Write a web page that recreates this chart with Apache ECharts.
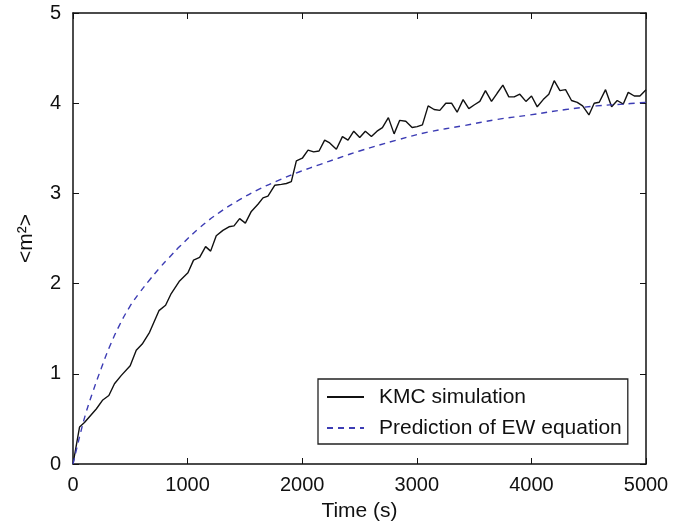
<!DOCTYPE html>
<html>
<head>
<meta charset="utf-8">
<script src="https://cdn.jsdelivr.net/npm/echarts@6/dist/echarts.min.js"></script>
<style>html,body{margin:0;padding:0;background:#fff}#c{width:684px;height:528px}</style>
</head>
<body>
<div id="c"></div>
<script>
// KMC simulation: time (s)
const kmcTime = [0,57,100,203,260,313,362,420,499,552,604,668,750,808,857,930,1003,1052,1105,1157,1201,1250,1308,1361,1405,1454,1504,1556,1614,1658,1701,1760,1818,1862,1905,1949,2001,2051,2100,2147,2196,2240,2298,2351,2400,2450,2502,2551,2604,2653,2700,2752,2802,2851,2904,2959,3003,3049,3099,3151,3201,3253,3303,3352,3404,3454,3500,3550,3599,3652,3701,3751,3803,3850,3899,3952,4001,4051,4103,4152,4199,4249,4298,4350,4400,4447,4502,4548,4592,4647,4700,4749,4802,4845,4898,4947,5000];
// KMC simulation: <m^2>
const kmcM2 = [0,0.41,0.46,0.61,0.71,0.76,0.89,0.98,1.09,1.26,1.33,1.46,1.70,1.76,1.89,2.03,2.12,2.26,2.29,2.41,2.36,2.53,2.59,2.63,2.64,2.72,2.67,2.80,2.88,2.95,2.97,3.09,3.10,3.11,3.13,3.36,3.39,3.48,3.46,3.47,3.59,3.56,3.49,3.63,3.59,3.69,3.62,3.69,3.63,3.69,3.73,3.84,3.66,3.81,3.80,3.73,3.74,3.76,3.97,3.93,3.92,4.00,4.00,3.90,4.04,3.94,3.98,4.02,4.14,4.02,4.11,4.20,4.07,4.07,4.10,4.02,4.08,3.96,4.04,4.10,4.25,4.14,4.15,4.03,4.01,3.97,3.87,4.00,4.01,4.15,3.96,4.03,3.99,4.12,4.08,4.08,4.15];
// EW equation prediction
const ewTime = [0,57,109,173,246,319,406,493,581,668,750,840,930,1105,1279,1454,1629,1803,1978,2153,2313,2500,2822,3100,3404,3700,3987,4300,4569,4800,5000];
const ewM2 = [0,0.30,0.55,0.80,1.06,1.30,1.54,1.74,1.90,2.04,2.165,2.29,2.41,2.62,2.79,2.93,3.05,3.15,3.24,3.32,3.39,3.47,3.59,3.68,3.75,3.82,3.87,3.93,3.97,3.99,4.01];
const xTicks = [0,1000,2000,3000,4000,5000];
const yTicks = [0,1,2,3,4,5];
const seriesNames = ['KMC simulation','Prediction of EW equation'];

const zip = (a,b) => a.map((v,i)=>[v,b[i]]);
const FONT = '"Liberation Sans", Arial, sans-serif';
const axisLine = {show:true, onZero:false, lineStyle:{color:'#111', width:1.5}};
const tick = {show:true, inside:true, length:6, lineStyle:{color:'#111', width:1}};
const plain = v => String(v);

const chart = echarts.init(document.getElementById('c'), null, {renderer:'canvas'});
chart.setOption({
  animation:false,
  backgroundColor:'#fff',
  grid:{left:73, right:38, top:13, bottom:64, containLabel:false},
  legend:{
    data:seriesNames,
    orient:'vertical',
    left:318, top:379,
    padding:[7,6,5,8],
    itemWidth:37, itemHeight:14, itemGap:9,
    itemStyle:{opacity:0},
    borderColor:'#222', borderWidth:1.3,
    backgroundColor:'#fff',
    textStyle:{fontFamily:FONT, fontSize:21, color:'#111', lineHeight:22, padding:[0,0,0,10]}
  },
  xAxis:[{
    type:'value', min:xTicks[0], max:xTicks[xTicks.length-1], interval:1000,
    name:'Time (s)', nameLocation:'middle', nameGap:37,
    nameTextStyle:{fontFamily:FONT, fontSize:21, color:'#111'},
    axisLine, axisTick:tick, splitLine:{show:false},
    axisLabel:{fontFamily:FONT, fontSize:20, color:'#111', margin:11, formatter:plain}
  },{
    type:'value', position:'top', min:xTicks[0], max:xTicks[xTicks.length-1], interval:1000,
    axisLine, axisTick:tick, splitLine:{show:false}, axisLabel:{show:false}
  }],
  yAxis:[{
    type:'value', min:yTicks[0], max:yTicks[yTicks.length-1], interval:1,
    name:'<m²>', nameLocation:'middle', nameGap:36, nameRotate:90,
    nameTextStyle:{fontFamily:FONT, fontSize:21, color:'#111'},
    axisLine, axisTick:tick, splitLine:{show:false},
    axisLabel:{fontFamily:FONT, fontSize:20, color:'#111', margin:12, formatter:plain}
  },{
    type:'value', position:'right', min:yTicks[0], max:yTicks[yTicks.length-1], interval:1,
    axisLine, axisTick:tick, splitLine:{show:false}, axisLabel:{show:false}
  }],
  series:[{
    name:seriesNames[0], type:'line', data:zip(kmcTime,kmcM2),
    symbol:'none', showSymbol:false,
    lineStyle:{color:'#111', width:1.4}, itemStyle:{color:'#111'}
  },{
    name:seriesNames[1], type:'line', data:zip(ewTime,ewM2),
    symbol:'none', showSymbol:false, smooth:0.4,
    lineStyle:{color:'#3c3cb4', width:1.4, type:[6,5]}, itemStyle:{color:'#3c3cb4'}
  }]
});
</script>
</body>
</html>
